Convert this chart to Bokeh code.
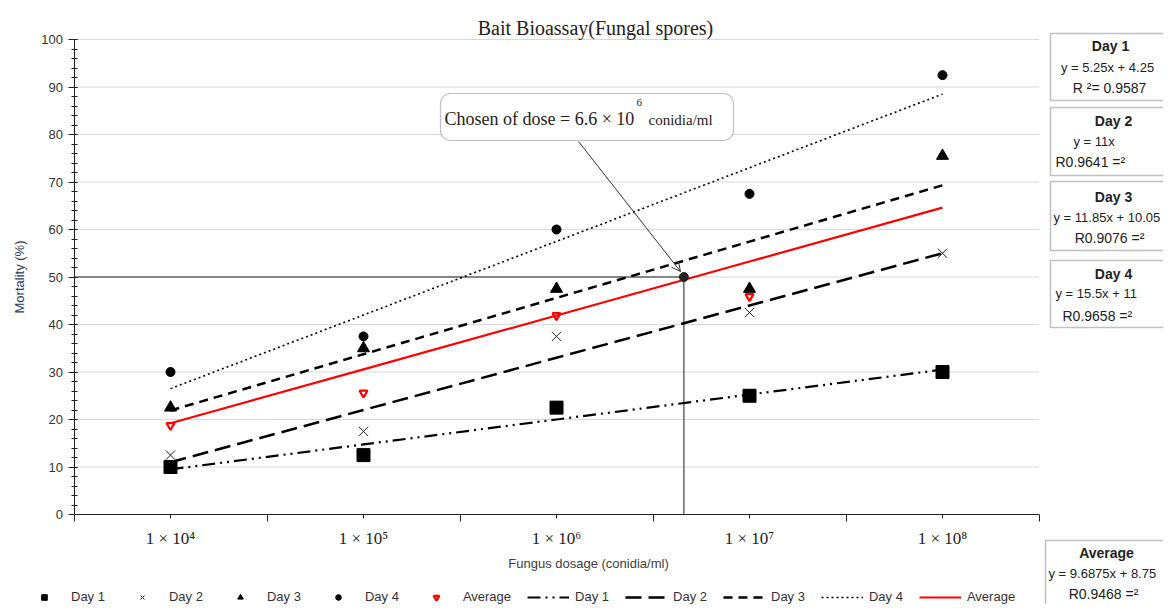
from bokeh.plotting import figure
from bokeh.models import (Range1d, FixedTicker, Label, BoxAnnotation, Arrow, OpenHead,
                          Legend, LegendItem, ColumnDataSource)
from bokeh.embed import file_html
from bokeh.resources import INLINE
import numpy as np

# ---------------- data ----------------
doses = ["1 × 10⁴", "1 × 10⁵", "1 × 10⁶", "1 × 10⁷", "1 × 10⁸"]
day1 = [10, 12.5, 22.5, 25, 30]
day2 = [12.5, 17.5, 37.5, 42.5, 55]
day3 = [22.5, 35, 47.5, 47.5, 75.5]
day4 = [30, 37.5, 60, 67.5, 92.5]
average = [18.75, 25.6, 41.9, 45.9, None]

fit_names = ["Day 1", "Day 2", "Day 3", "Day 4", "Average"]
fit_slope = [5.25, 11, 11.85, 15.5, 11.35]
fit_intercept = [4.25, 0, 10.05, 11, 7.85]

chosen_log_dose = 6.66     # where the drawn 50 % marker sits on the log-dose axis
chosen_mortality = 50

y_ticks = list(range(0, 101, 10))

box_titles = ["Day 1", "Day 2", "Day 3", "Day 4", "Average"]
box_eqs = ["y = 5.25x + 4.25", "y = 11x", "y = 11.85x + 10.05", "y = 15.5x + 11", "y = 9.6875x + 8.75"]
box_r2 = ["R ²= 0.9587", "R0.9641 =²", "R0.9076 =²", "R0.9658 =²", "R0.9468 =²"]

# ---------------- geometry of the page (pixels) ----------------
W, H = 1163, 604
PX0, PX_STEP = 170, 193      # pixel of first dose, pixels per decade
PY0, PY_UNIT = 514, 4.75     # pixel of 0 %, pixels per %

xr = Range1d((0 - PX0) / PX_STEP, (W - PX0) / PX_STEP)
yr = Range1d((PY0 - H) / PY_UNIT, PY0 / PY_UNIT)

p = figure(width=W, height=H, output_backend="svg", toolbar_location=None, title=None,
           x_range=xr, y_range=yr, min_border=0)
p.outline_line_color = None
p.grid.visible = False

xi = np.arange(len(doses))
x_lo, x_hi = -0.5, len(doses) - 0.5

# axes (library axes pinned at the plot-area edges)
p.xaxis.fixed_location = 0
p.xaxis.bounds = (x_lo, x_hi)
p.xaxis.ticker = FixedTicker(ticks=list(xi), minor_ticks=list(np.arange(x_lo, x_hi + 0.01, 1.0)))
p.xaxis.major_label_overrides = {int(i): d for i, d in zip(xi, doses)}
p.xaxis.major_label_text_font = "Liberation Serif"
p.xaxis.major_label_text_font_size = "17px"
p.xaxis.major_label_text_color = "#222222"
p.xaxis.major_label_standoff = 7
p.xaxis.major_tick_out = 4
p.xaxis.major_tick_in = 0
p.xaxis.minor_tick_out = 7
p.xaxis.minor_tick_in = 0
p.xaxis.axis_line_color = "#222222"
p.xaxis.major_tick_line_color = "#222222"
p.xaxis.minor_tick_line_color = "#222222"

p.yaxis.fixed_location = x_lo
p.yaxis.bounds = (0, 100)
p.yaxis.ticker = FixedTicker(ticks=y_ticks, minor_ticks=list(range(0, 101, 2)))
p.yaxis.major_label_text_font = "Liberation Sans"
p.yaxis.major_label_text_font_size = "13px"
p.yaxis.major_label_text_color = "#333333"
p.yaxis.major_tick_out = 6
p.yaxis.major_tick_in = 3
p.yaxis.minor_tick_out = 3
p.yaxis.minor_tick_in = 3
p.yaxis.axis_line_color = "#222222"
p.yaxis.major_tick_line_color = "#222222"
p.yaxis.minor_tick_line_color = "#222222"
p.yaxis.axis_label = "Mortality (%)"
p.yaxis.axis_label_text_font = "Liberation Sans"
p.yaxis.axis_label_text_font_size = "13px"
p.yaxis.axis_label_text_font_style = "normal"
p.yaxis.axis_label_text_color = "#2b3a60"
p.yaxis.axis_label_standoff = 12

# horizontal grid lines over the plot area only
gy = [t for t in y_ticks if t > 0]
p.segment(x0=[x_lo] * len(gy), x1=[x_hi] * len(gy), y0=gy, y1=gy,
          line_color="#d9d9d9", line_width=1, level="underlay")

# chosen dose guide lines
cx = chosen_log_dose - 4
p.line([x_lo, cx], [chosen_mortality, chosen_mortality], line_color="#222222", line_width=1)
p.line([cx, cx], [0, chosen_mortality], line_color="#444444", line_width=1.2)

# trend lines
styles = [dict(line_color="black", line_width=2.2, line_dash="13 5 2 5 2 5"),
          dict(line_color="black", line_width=2.5, line_dash="16 7"),
          dict(line_color="black", line_width=2.5, line_dash="9 6"),
          dict(line_color="black", line_width=1.6, line_dash="2 3"),
          dict(line_color="#ff0000", line_width=2.2)]
line_renderers = []
for s, b, st in zip(fit_slope, fit_intercept, styles):
    yy = s * (xi + 1) + b
    line_renderers.append(p.line(xi, yy, **st))

p.scatter([cx], [chosen_mortality], marker="circle", size=9, color="#222222")

# markers
src = ColumnDataSource(dict(x=xi, d1=day1, d2=day2, d3=day3, d4=day4,
                            avg=[np.nan if v is None else v for v in average]))
m1 = p.scatter("x", "d1", source=src, marker="square", size=13, color="black")
m2 = p.scatter("x", "d2", source=src, marker="x", size=13, line_color="#222222", line_width=1)
m3 = p.scatter("x", "d3", source=src, marker="triangle", size=12, color="black")
m4 = p.scatter("x", "d4", source=src, marker="circle", size=9, color="black")
m5 = p.scatter("x", "avg", source=src, marker="inverted_triangle", size=8, fill_color=None,
               line_color="#ff0000", line_width=2.2)
marker_renderers = [m1, m2, m3, m4, m5]

# ---- page-positioned annotations (frame == canvas, screen units from bottom-left) ----
def sx(x):
    return x
def sy(y):
    return H - y

def text(x, y, t, size="13px", font="Liberation Sans", align="center", style="normal", color="#222222"):
    p.add_layout(Label(x=sx(x), y=sy(y), x_units="screen", y_units="screen", text=t,
                       text_font=font, text_font_size=size, text_align=align,
                       text_baseline="middle", text_font_style=style, text_color=color))

def box(l, t, r, b, radius=0, lw=1.5):
    p.add_layout(BoxAnnotation(left=sx(l), right=sx(r), top=sy(t), bottom=sy(b),
                               left_units="screen", right_units="screen",
                               top_units="screen", bottom_units="screen",
                               fill_color="white", fill_alpha=1, line_color="#333333",
                               line_width=lw, border_radius=radius))

# legend along the bottom edge
items = [LegendItem(label=n, renderers=[r]) for n, r in zip(fit_names, marker_renderers)]
items += [LegendItem(label=n, renderers=[r]) for n, r in zip(fit_names, line_renderers)]
legend = Legend(items=items, orientation="horizontal", location=(23, 0),
                glyph_width=42, glyph_height=14, label_height=14, label_standoff=6,
                spacing=16, padding=0, margin=0, border_line_color=None,
                background_fill_alpha=0, label_text_font="Liberation Sans",
                label_text_font_size="13px", label_text_color="#333333")
p.add_layout(legend)

# title & x label
text(595, 27, "Bait Bioassay(Fungal spores)", size="20px", font="Liberation Serif")
text(588, 563, "Fungus dosage (conidia/ml)", size="13px", color="#404040")

# callout
box(440, 93, 733, 140, radius=10, lw=1.2)
text(444, 118, "Chosen of dose = 6.6 × 10", size="18px", font="Liberation Serif", align="left")
text(636, 102, "6", size="11px", font="Liberation Serif", align="left")
text(648, 119, "conidia/ml", size="15px", font="Liberation Serif", align="left")
p.add_layout(Arrow(end=OpenHead(size=9, line_width=1, line_color="#333333"),
                   x_start=sx(578), y_start=sy(141), x_end=sx(680), y_end=sy(271),
                   start_units="screen", end_units="screen",
                   line_color="#333333", line_width=1))

# equation boxes
box_rects = [(1050, 33, 1200, 100), (1050, 107, 1200, 175), (1050, 181, 1200, 250),
             (1050, 260, 1200, 327), (1045, 540, 1200, 620)]
title_pos = [(1110, 45), (1113, 120), (1113, 196), (1113, 273), (1106, 552)]
eq_pos = [(1107, 67, "center"), (1073, 141, "left"), (1053, 217, "left"), (1055, 293, "left"), (1048, 573, "left")]
r2_pos = [(1109, 87, "center"), (1055, 161, "left"), (1109, 237, "center"), (1062, 315, "left"), (1103, 593, "center")]
for i in range(5):
    box(*box_rects[i])
    text(title_pos[i][0], title_pos[i][1], box_titles[i], size="14px", style="bold")
    text(eq_pos[i][0], eq_pos[i][1], box_eqs[i], size="13px", align=eq_pos[i][2])
    text(r2_pos[i][0], r2_pos[i][1], box_r2[i], size="14px", align=r2_pos[i][2])

open("out.html", "w").write(file_html(p, INLINE))
